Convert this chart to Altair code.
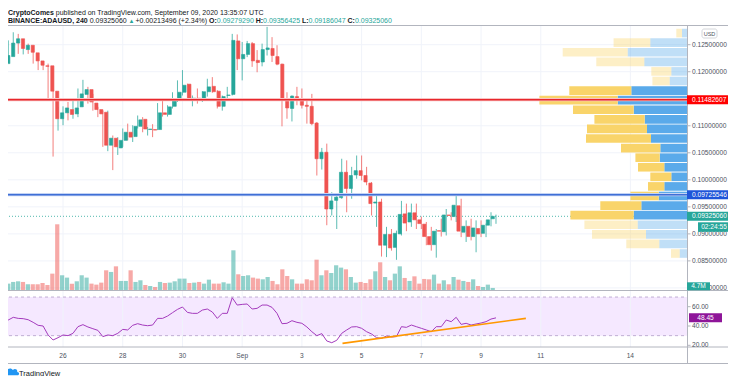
import altair as alt
import pandas as pd

# ------------------------------------------------------------------ data
# BINANCE:ADAUSD, 4h candles from 2020-08-24 00:00 UTC (day 0) to 2020-09-09 12:00 UTC
opens = [0.1215, 0.1228, 0.1253, 0.1261, 0.1241, 0.1249, 0.1235, 0.1220, 0.1211, 0.1211,
         0.1164, 0.1113, 0.1124, 0.1130, 0.1122, 0.1135, 0.1158, 0.1167, 0.1142, 0.1130,
         0.1125, 0.1064, 0.1077, 0.1059, 0.1073, 0.1088, 0.1080, 0.1099, 0.1112, 0.1093,
         0.1093, 0.1093, 0.1124, 0.1121, 0.1136, 0.1147, 0.1162, 0.1177, 0.1148, 0.1151,
         0.1148, 0.1163, 0.1173, 0.1164, 0.1136, 0.1156, 0.1158, 0.1257, 0.1224, 0.1232,
         0.1252, 0.1221, 0.1218, 0.1241, 0.1243, 0.1228, 0.1214, 0.1150, 0.1132, 0.1154,
         0.1147, 0.1138, 0.1136, 0.1105, 0.1039, 0.1051, 0.0946, 0.0962, 0.0967, 0.1014,
         0.0984, 0.1009, 0.1017, 0.1008, 0.0994, 0.0957, 0.0959, 0.0879, 0.0899, 0.0875,
         0.0900, 0.0937, 0.0922, 0.0939, 0.0926, 0.0918, 0.0895, 0.0880, 0.0906, 0.0904,
         0.0935, 0.0932, 0.0952, 0.0903, 0.0914, 0.0895, 0.0910, 0.0901, 0.0916, 0.09279290]
highs = [0.1232, 0.1258, 0.1273, 0.1270, 0.1252, 0.1252, 0.1240, 0.1224, 0.1215, 0.1215,
         0.1166, 0.1135, 0.1136, 0.1144, 0.1147, 0.1169, 0.1185, 0.1172, 0.1159, 0.1135,
         0.1128, 0.1128, 0.1082, 0.1079, 0.1095, 0.1104, 0.1101, 0.1119, 0.1116, 0.1098,
         0.1103, 0.1142, 0.1146, 0.1138, 0.1162, 0.1184, 0.1203, 0.1178, 0.1156, 0.1169,
         0.1164, 0.1187, 0.1190, 0.1166, 0.1156, 0.1172, 0.1270, 0.1269, 0.1255, 0.1257,
         0.1255, 0.1240, 0.1252, 0.1283, 0.1264, 0.1249, 0.1215, 0.1162, 0.1156, 0.1172,
         0.1169, 0.1150, 0.1159, 0.1107, 0.1059, 0.1067, 0.0977, 0.0974, 0.1039, 0.1036,
         0.1024, 0.1045, 0.1045, 0.1024, 0.0996, 0.0974, 0.0965, 0.0913, 0.0909, 0.0906,
         0.0961, 0.0956, 0.0956, 0.0956, 0.0932, 0.0922, 0.0913, 0.0909, 0.0928, 0.0946,
         0.0940, 0.0974, 0.0965, 0.0925, 0.0928, 0.0925, 0.0925, 0.0919, 0.0940, 0.09356425]
lows = [0.1196, 0.1221, 0.1243, 0.1233, 0.1232, 0.1233, 0.1215, 0.1203, 0.1203, 0.1150,
        0.1043, 0.1091, 0.1101, 0.1110, 0.1113, 0.1116, 0.1152, 0.1141, 0.1128, 0.1116,
        0.1061, 0.1053, 0.1018, 0.1046, 0.1061, 0.1073, 0.1070, 0.1095, 0.1088, 0.1082,
        0.1079, 0.1092, 0.1117, 0.1117, 0.1132, 0.1144, 0.1156, 0.1146, 0.1136, 0.1141,
        0.1144, 0.1154, 0.1161, 0.1132, 0.1128, 0.1150, 0.1156, 0.1203, 0.1184, 0.1227,
        0.1209, 0.1199, 0.1210, 0.1230, 0.1218, 0.1212, 0.1099, 0.1113, 0.1108, 0.1138,
        0.1132, 0.1104, 0.1101, 0.1008, 0.1019, 0.0916, 0.0934, 0.0909, 0.0965, 0.0940,
        0.0965, 0.1002, 0.0999, 0.0990, 0.0934, 0.0913, 0.0858, 0.0857, 0.0869, 0.0852,
        0.0897, 0.0905, 0.0913, 0.0909, 0.0909, 0.0879, 0.0869, 0.0856, 0.0895, 0.0897,
        0.0925, 0.0922, 0.0894, 0.0885, 0.0888, 0.0866, 0.0894, 0.0894, 0.0914, 0.09186047]
closes = [0.1230, 0.1253, 0.1261, 0.1243, 0.1249, 0.1236, 0.1220, 0.1212, 0.1210, 0.1164,
          0.1113, 0.1124, 0.1133, 0.1121, 0.1133, 0.1159, 0.1167, 0.1144, 0.1130, 0.1122,
          0.1064, 0.1077, 0.1061, 0.1073, 0.1088, 0.1079, 0.1099, 0.1111, 0.1094, 0.1094,
          0.1092, 0.1124, 0.1121, 0.1135, 0.1147, 0.1162, 0.1175, 0.1147, 0.1151, 0.1149,
          0.1163, 0.1172, 0.1163, 0.1136, 0.1154, 0.1157, 0.1258, 0.1224, 0.1232, 0.1252,
          0.1220, 0.1217, 0.1241, 0.1244, 0.1230, 0.1214, 0.1150, 0.1133, 0.1155, 0.1147,
          0.1138, 0.1136, 0.1104, 0.1039, 0.1051, 0.0946, 0.0961, 0.0968, 0.1014, 0.0984,
          0.1008, 0.1017, 0.1008, 0.0996, 0.0956, 0.0959, 0.0879, 0.0899, 0.0874, 0.0901,
          0.0936, 0.0920, 0.0939, 0.0926, 0.0919, 0.0895, 0.0880, 0.0905, 0.0905, 0.0935,
          0.0934, 0.0953, 0.0905, 0.0914, 0.0895, 0.0911, 0.0900, 0.0916, 0.0926, 0.09325060]
volumes_m = [13.4, 16.8, 18.1, 16.8, 12.1, 12.1, 12.1, 14.7, 10.7, 33.5,
             132.7, 30.2, 25.5, 13.4, 18.1, 30.2, 25.5, 13.4, 11.4, 15.4,
             40.2, 36.9, 48.2, 18.8, 18.8, 40.2, 16.8, 20.1, 10.7, 8.7,
             6.7, 16.8, 14.7, 15.4, 18.1, 23.5, 23.5, 14.7, 15.4, 16.8,
             13.4, 21.4, 13.4, 13.4, 16.1, 13.4, 80.4, 32.2, 28.8, 30.2,
             25.5, 23.5, 22.1, 26.8, 18.8, 12.1, 42.2, 28.8, 22.1, 13.4,
             13.4, 22.1, 20.1, 61.6, 30.2, 40.2, 34.8, 50.3, 45.6, 42.2,
             26.8, 15.4, 16.8, 14.7, 22.1, 38.2, 56.3, 26.8, 20.1, 33.5,
             48.2, 24.8, 18.8, 28.1, 13.4, 22.8, 22.1, 31.5, 13.4, 20.1,
             12.1, 26.8, 21.4, 18.8, 16.8, 22.1, 8.7, 6.7, 11.4, 4.7]
rsi_values = [41.7, 46.2, 49.0, 47.9, 47.6, 46.5, 43.8, 40.7, 40.0, 30.7,
              25.5, 27.9, 30.7, 30.0, 32.4, 39.3, 41.4, 39.0, 37.2, 35.5,
              29.0, 30.7, 30.0, 32.4, 36.5, 35.9, 40.7, 42.4, 41.0, 40.3,
              41.0, 47.9, 47.9, 50.3, 53.8, 57.2, 59.7, 54.1, 53.1, 53.1,
              56.5, 57.6, 54.5, 47.9, 53.1, 53.1, 69.3, 61.7, 62.4, 62.8,
              57.6, 58.3, 61.7, 61.7, 59.3, 53.1, 42.4, 42.8, 45.5, 43.8,
              42.8, 39.0, 34.1, 30.0, 32.1, 24.5, 22.7, 25.2, 32.4, 35.9,
              39.0, 39.3, 37.6, 34.1, 31.7, 27.9, 27.2, 29.6, 28.6, 29.0,
              39.3, 38.6, 41.0, 39.3, 37.6, 35.9, 34.1, 39.3, 39.3, 46.2,
              44.5, 49.0, 41.7, 42.8, 41.0, 42.1, 43.1, 44.5, 47.2, 48.45]
candle_hours = 4

# horizontal levels
resistance = 0.11482607
support = 0.09725546
last_price = 0.09325060
last_rsi = 48.45
last_volume_label = "4.7M"
countdown = "02:24:55"

# RSI trend line (day, rsi)
trend_days = [11.36, 17.5]
trend_rsi = [22.0, 47.9]

# visible-range volume profile, 24 rows from top to bottom
vp_high = 0.12804
vp_low = 0.08548
vp_up = [5.0, 36.7, 59.3, 42.7, 15.7, 17.3, 55.7, 69.3, 53.3, 42.3, 40.0, 36.0,
         26.7, 27.3, 22.7, 15.7, 22.7, 28.3, 45.7, 53.3, 49.3, 41.0, 27.7, 7.3]
vp_down = [5.7, 36.7, 65.0, 48.0, 20.0, 17.3, 62.0, 78.3, 60.7, 50.3, 60.0, 65.0,
           39.3, 24.3, 26.3, 21.0, 16.3, 28.3, 41.0, 63.3, 53.3, 54.0, 33.0, 8.7]
vp_value_area = (6, 19)

# axes
price_ticks = [0.080, 0.085, 0.090, 0.095, 0.100, 0.105, 0.110, 0.115, 0.120, 0.125]
price_tick_labels = ["%.8f" % p for p in price_ticks]
day_ticks = [0, 2, 4, 6, 8, 10, 12, 14, 16, 18, 21]
day_labels = ["24", "26", "28", "30", "Sep", "3", "5", "7", "9", "11", "14"]
rsi_ticks = [20, 40, 60]
rsi_tick_labels = ["20.00", "40.00", "60.00"]
rsi_band = [30, 70]

# ------------------------------------------------------------------ styling
GREEN = "#26a69a"
RED = "#ef5350"
TXT = "#131722"
AX = "#4c525e"
FRAME = "#b2b5be"
GRID = "#f0f3fa"
FONT = "Liberation Sans, Arial, Helvetica, sans-serif"
OFF = 8  # page margin


def vx(p):
    return p - OFF


def vy(p):
    return p - OFF


X_DAY = alt.Scale(domain=[0, 20], range=[vx(3.3), vx(3.3 + 20 * 29.86)], nice=False, zero=False)
Y_PRICE = alt.Scale(domain=[0.085, 0.125], range=[vy(260.9), vy(44.7)], nice=False, zero=False)
Y_VOL = alt.Scale(domain=[0, 100], range=[vy(290.3), vy(290.3 - 49.74)], nice=False, zero=False)
Y_RSI = alt.Scale(domain=[20, 60], range=[vy(345.3), vy(306.7)], nice=False, zero=False)
X_VP = alt.Scale(domain=[0, 100], range=[vx(687), vx(587)], nice=False, zero=False)

PL, PR = vx(3), vx(687)  # pane left / right in view pixels

n = len(opens)
df = pd.DataFrame({
    "day": [i * candle_hours / 24 for i in range(n)],
    "open": opens, "high": highs, "low": lows, "close": closes,
    "vol": volumes_m, "rsi": rsi_values,
})
UP = "datum.close >= datum.open"


def one():
    return pd.DataFrame({"k": [0]})


layers = []

# RSI background band
layers.append(alt.Chart(pd.DataFrame({"lo": [rsi_band[0]], "hi": [rsi_band[1]]}))
              .mark_rect(color="#f5e8ff")
              .encode(x=alt.value(PL), x2=alt.value(PR),
                      y=alt.Y("hi:Q", scale=Y_RSI, axis=None), y2=alt.Y2("lo:Q")))

# grid
layers.append(alt.Chart(pd.DataFrame({"p": price_ticks})).mark_rule(color=GRID, strokeWidth=1)
              .encode(y=alt.Y("p:Q", scale=Y_PRICE, axis=None), x=alt.value(PL), x2=alt.value(PR)))
layers.append(alt.Chart(pd.DataFrame({"d": day_ticks})).mark_rule(color=GRID, strokeWidth=1)
              .encode(x=alt.X("d:Q", scale=X_DAY, axis=None), y=alt.value(vy(25)), y2=alt.value(vy(347))))

# volume bars
layers.append(alt.Chart(df).mark_bar(orient="vertical", size=4.2, opacity=0.5)
              .encode(x=alt.X("day:Q", scale=X_DAY, axis=None),
                      y=alt.Y("vol:Q", scale=Y_VOL, axis=None, stack=None),
                      color=alt.condition(UP, alt.value(GREEN), alt.value(RED))))

# current price dotted line
layers.append(alt.Chart(pd.DataFrame({"p": [last_price]}))
              .mark_rule(color=GREEN, strokeWidth=1, strokeDash=[1, 2], opacity=0.8)
              .encode(y=alt.Y("p:Q", scale=Y_PRICE, axis=None), x=alt.value(PL), x2=alt.value(PR)))

# volume profile
bin_h = (vp_high - vp_low) / len(vp_up)
rows = []
for j, (u, d) in enumerate(zip(vp_up, vp_down)):
    top = vp_high - j * bin_h
    va = vp_value_area[0] <= j <= vp_value_area[1]
    rows.append({"x0": 0, "x1": u, "top": top - bin_h * 0.05, "bot": top - bin_h * 0.95,
                 "kind": "up", "va": va})
    rows.append({"x0": u, "x1": u + d, "top": top - bin_h * 0.05, "bot": top - bin_h * 0.95,
                 "kind": "down", "va": va})
vp_df = pd.DataFrame(rows)
layers.append(alt.Chart(vp_df).mark_rect()
              .encode(x=alt.X("x0:Q", scale=X_VP, axis=None), x2=alt.X2("x1:Q"),
                      y=alt.Y("top:Q", scale=Y_PRICE, axis=None), y2=alt.Y2("bot:Q"),
                      color=alt.condition("datum.kind == 'up'", alt.value("#5aaaea"), alt.value("#f9d46a")),
                      opacity=alt.condition("datum.va", alt.value(1.0), alt.value(0.38))))

# candle wicks and bodies
layers.append(alt.Chart(df).mark_rule(strokeWidth=1, opacity=0.75)
              .encode(x=alt.X("day:Q", scale=X_DAY, axis=None),
                      y=alt.Y("low:Q", scale=Y_PRICE, axis=None), y2=alt.Y2("high:Q"),
                      color=alt.condition(UP, alt.value(GREEN), alt.value(RED))))
layers.append(alt.Chart(df).mark_bar(orient="vertical", size=3.2, strokeWidth=0.6)
              .encode(x=alt.X("day:Q", scale=X_DAY, axis=None),
                      y=alt.Y("open:Q", scale=Y_PRICE, axis=None), y2=alt.Y2("close:Q"),
                      color=alt.condition(UP, alt.value(GREEN), alt.value(RED)),
                      stroke=alt.condition(UP, alt.value(GREEN), alt.value(RED))))

# horizontal levels (thin core line with a soft halo)
for price, halo, core, w in [(resistance, "#f8c2c2", "#e8262b", 1.6), (support, "#c3d3f4", "#3f6fd6", 1.5)]:
    ldf = pd.DataFrame({"p": [price]})
    layers.append(alt.Chart(ldf).mark_rule(color=halo, strokeWidth=3.2)
                  .encode(y=alt.Y("p:Q", scale=Y_PRICE, axis=None), x=alt.value(PL), x2=alt.value(PR)))
    layers.append(alt.Chart(ldf).mark_rule(color=core, strokeWidth=w)
                  .encode(y=alt.Y("p:Q", scale=Y_PRICE, axis=None), x=alt.value(PL), x2=alt.value(PR)))

# RSI pane
layers.append(alt.Chart(pd.DataFrame({"v": rsi_band})).mark_rule(color="#bfaed3", strokeWidth=1, strokeDash=[3, 3])
              .encode(y=alt.Y("v:Q", scale=Y_RSI, axis=None), x=alt.value(PL), x2=alt.value(PR)))
layers.append(alt.Chart(df).mark_line(color="#a43bbd", strokeWidth=1)
              .encode(x=alt.X("day:Q", scale=X_DAY, axis=None), y=alt.Y("rsi:Q", scale=Y_RSI, axis=None)))
layers.append(alt.Chart(pd.DataFrame({"d": trend_days, "r": trend_rsi}))
              .mark_line(color="#ff9800", strokeWidth=1.6)
              .encode(x=alt.X("d:Q", scale=X_DAY, axis=None), y=alt.Y("r:Q", scale=Y_RSI, axis=None)))

# frame
frame = [
    (vx(3), vx(736), vy(25.5), vy(25.5)),
    (vx(3), vx(736), vy(290.5), vy(290.5)),
    (vx(3), vx(736), vy(347), vy(347)),
    (vx(3), vx(736), vy(363.5), vy(363.5)),
    (vx(687.5), vx(687.5), vy(25.5), vy(363.5)),
]
for x1, x2, y1, y2 in frame:
    layers.append(alt.Chart(one()).mark_rule(color=FRAME, strokeWidth=1)
                  .encode(x=alt.value(x1), x2=alt.value(x2), y=alt.value(y1), y2=alt.value(y2)))

# price axis ticks and labels
pt = pd.DataFrame({"p": price_ticks, "lab": price_tick_labels})
layers.append(alt.Chart(pt).mark_rule(color=FRAME)
              .encode(y=alt.Y("p:Q", scale=Y_PRICE, axis=None), x=alt.value(vx(687.5)), x2=alt.value(vx(690.5))))
layers.append(alt.Chart(pt).mark_text(align="left", baseline="middle", font=FONT, fontSize=6.6, color=AX)
              .encode(y=alt.Y("p:Q", scale=Y_PRICE, axis=None), x=alt.value(vx(692)), text="lab:N"))
rt = pd.DataFrame({"v": rsi_ticks, "lab": rsi_tick_labels})
layers.append(alt.Chart(rt).mark_rule(color=FRAME)
              .encode(y=alt.Y("v:Q", scale=Y_RSI, axis=None), x=alt.value(vx(687.5)), x2=alt.value(vx(690.5))))
layers.append(alt.Chart(rt).mark_text(align="left", baseline="middle", font=FONT, fontSize=6.6, color=AX)
              .encode(y=alt.Y("v:Q", scale=Y_RSI, axis=None), x=alt.value(vx(692)), text="lab:N"))

# time axis labels
layers.append(alt.Chart(pd.DataFrame({"d": day_ticks, "lab": day_labels}))
              .mark_text(align="center", baseline="middle", font=FONT, fontSize=6.6, color=AX)
              .encode(x=alt.X("d:Q", scale=X_DAY, axis=None), y=alt.value(vy(355.5)), text="lab:N"))

# price label boxes
BOX45 = "M-1,-0.2L1,-0.2L1,0.2L-1,0.2Z"
for price, bg in [(resistance, "#ff0000"), (support, "#1f55d9"), (last_price, GREEN)]:
    bdf = pd.DataFrame({"p": [price], "lab": ["%.8f" % price]})
    layers.append(alt.Chart(bdf).mark_point(shape=BOX45, size=45 * 45, filled=True, opacity=1, strokeWidth=0, color=bg)
                  .encode(x=alt.value(vx(709.5)), y=alt.Y("p:Q", scale=Y_PRICE, axis=None)))
    layers.append(alt.Chart(bdf).mark_text(align="left", baseline="middle", font=FONT, fontSize=6.6, color="white")
                  .encode(x=alt.value(vx(692)), y=alt.Y("p:Q", scale=Y_PRICE, axis=None), text="lab:N"))

# countdown box
layers.append(alt.Chart(one()).mark_rect(color=GREEN)
              .encode(x=alt.value(vx(698)), x2=alt.value(vx(730)), y=alt.value(vy(222.3)), y2=alt.value(vy(231.8))))
layers.append(alt.Chart(one()).mark_text(text=countdown, align="center", baseline="middle", font=FONT, fontSize=6.6, color="white")
              .encode(x=alt.value(vx(714)), y=alt.value(vy(227.2))))

# volume label box
layers.append(alt.Chart(one()).mark_rect(color=GREEN)
              .encode(x=alt.value(vx(687)), x2=alt.value(vx(710)), y=alt.value(vy(282.3)), y2=alt.value(vy(290.3))))
layers.append(alt.Chart(one()).mark_text(text=last_volume_label, align="center", baseline="middle", font=FONT, fontSize=6.6, color="white")
              .encode(x=alt.value(vx(698.5)), y=alt.value(vy(286.4))))

# RSI value box
BOX33 = "M-1,-0.2727L1,-0.2727L1,0.2727L-1,0.2727Z"
rdf = pd.DataFrame({"v": [last_rsi], "lab": ["%.2f" % last_rsi]})
layers.append(alt.Chart(rdf).mark_point(shape=BOX33, size=33 * 33, filled=True, opacity=1, strokeWidth=0, color="#8e1599")
              .encode(x=alt.value(vx(705.5)), y=alt.Y("v:Q", scale=Y_RSI, axis=None)))
layers.append(alt.Chart(rdf).mark_text(align="center", baseline="middle", font=FONT, fontSize=6.6, color="white")
              .encode(x=alt.value(vx(705.5)), y=alt.Y("v:Q", scale=Y_RSI, axis=None), text="lab:N"))

# USD box
layers.append(alt.Chart(one()).mark_rect(fill="white", stroke="#c9cbd1", strokeWidth=0.8, cornerRadius=2)
              .encode(x=alt.value(vx(702)), x2=alt.value(vx(717)), y=alt.value(vy(29)), y2=alt.value(vy(38))))
layers.append(alt.Chart(one()).mark_text(text="USD", align="center", baseline="middle", font=FONT, fontSize=5.5, color=AX)
              .encode(x=alt.value(vx(709.5)), y=alt.value(vy(33.6))))


def txt(x, y, s, color=TXT, bold=False, size=7):
    return (alt.Chart(one()).mark_text(text=s, align="left", baseline="alphabetic", font=FONT, fontSize=size,
                                       fontWeight="bold" if bold else "normal", color=color)
            .encode(x=alt.value(x), y=alt.value(y)))


# header
L1, L2 = 6.5, 14.8
layers.append(txt(0, L1, "CryptoComes", bold=True))
layers.append(txt(47.8, L1, "published on TradingView.com, September 09, 2020 13:35:07 UTC"))
layers.append(txt(0, L2, "BINANCE:ADAUSD, 240", bold=True))
layers.append(txt(81.7, L2, "0.09325060"))
layers.append(txt(120.6, L2, "\u25b2", color=GREEN, size=6))
layers.append(txt(127.5, L2, "+0.00213496 (+2.34%)"))
layers.append(txt(201.0, L2, "O:", bold=True))
layers.append(txt(208.8, L2, "%.8f" % opens[-1], color=GREEN))
layers.append(txt(247.7, L2, "H:", bold=True))
layers.append(txt(255.1, L2, "%.8f" % highs[-1], color=GREEN))
layers.append(txt(294.0, L2, "L:", bold=True))
layers.append(txt(300.6, L2, "%.8f" % lows[-1], color=GREEN))
layers.append(txt(339.5, L2, "C:", bold=True))
layers.append(txt(346.9, L2, "%.8f" % closes[-1], color=GREEN))

# footer: logo + wordmark
CLOUD = ("M-0.9,0.45 C-1.25,0.45 -1.25,-0.15 -0.85,-0.15 C-0.85,-0.7 -0.1,-0.85 0.15,-0.4 "
         "C0.45,-0.75 0.95,-0.5 0.85,-0.1 C1.25,-0.1 1.25,0.45 0.9,0.45 Z")
layers.append(alt.Chart(one()).mark_point(shape=CLOUD, size=150, filled=True, opacity=1, strokeWidth=0, color="#2196f3")
              .encode(x=alt.value(vx(12)), y=alt.value(vy(372.5))))
layers.append(txt(vx(19), vy(375.5), "TradingView", size=7.5))

chart = (alt.layer(*layers)
         .properties(width=720, height=368, autosize=alt.AutoSizeParams(type="none"), padding=0, background="white")
         .resolve_scale(x="independent", y="independent")
         .configure_view(stroke=None))

chart.save("out.html", embed_options={"renderer": "svg", "actions": False})
